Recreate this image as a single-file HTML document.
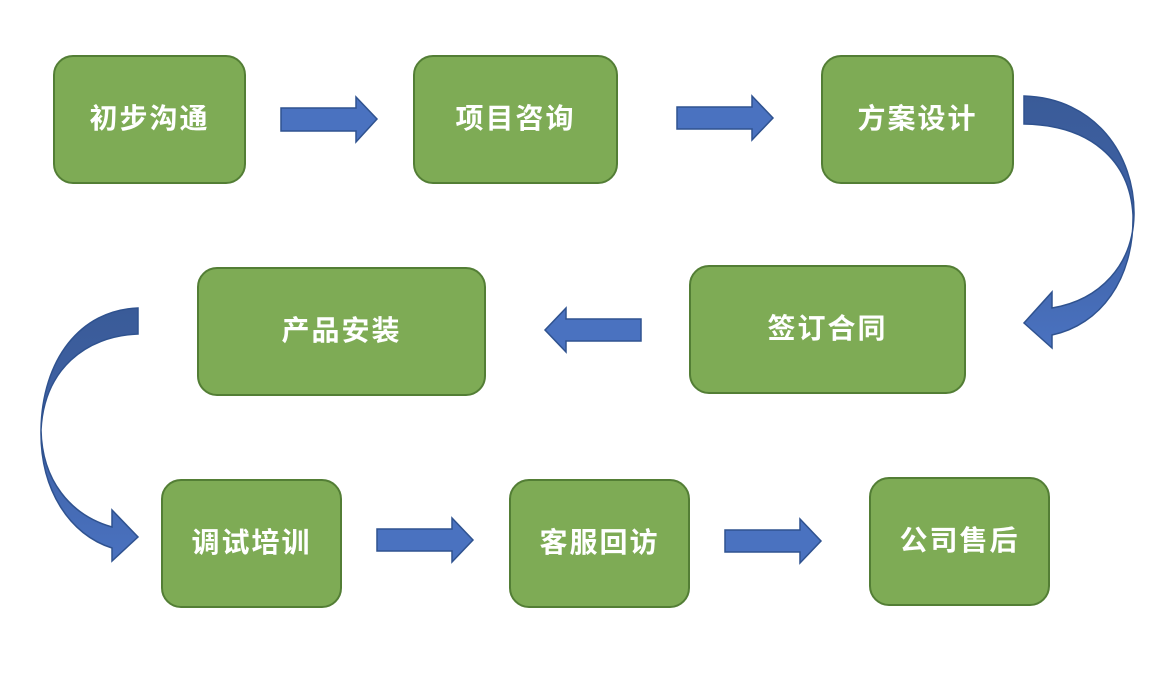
<!DOCTYPE html>
<html><head><meta charset="utf-8"><style>
body{margin:0;width:1160px;height:674px;background:#fff;position:relative;overflow:hidden;font-family:"Liberation Sans","Noto Sans CJK SC",sans-serif}
.b{position:absolute;box-sizing:border-box;background:#7eab55;border:2px solid #537e35;border-radius:20px;color:#fff;font-weight:bold;font-size:28px;display:flex;align-items:center;justify-content:center;letter-spacing:2px;padding-bottom:6px}
svg{position:absolute;left:0;top:0}
</style></head><body>
<div class="b" style="left:53px;top:55px;width:193px;height:129px">初步沟通</div>
<div class="b" style="left:413px;top:55px;width:205px;height:129px">项目咨询</div>
<div class="b" style="left:821px;top:55px;width:193px;height:129px">方案设计</div>
<div class="b" style="left:197px;top:267px;width:289px;height:129px">产品安装</div>
<div class="b" style="left:689px;top:265px;width:277px;height:129px">签订合同</div>
<div class="b" style="left:161px;top:479px;width:181px;height:129px">调试培训</div>
<div class="b" style="left:509px;top:479px;width:181px;height:129px">客服回访</div>
<div class="b" style="left:869px;top:477px;width:181px;height:129px">公司售后</div>
<svg width="1160" height="674">
<defs><linearGradient id="g" x1="0" y1="0" x2="0" y2="1"><stop offset="0" stop-color="#3a5b98"/><stop offset="0.5" stop-color="#3f62a6"/><stop offset="1" stop-color="#4a72c0"/></linearGradient></defs>
<g fill="#4a72c0" stroke="#2f528f" stroke-width="1.5">
<path d="M281,108 H356 V97 L377,119 L356,142 V131 H281 Z"/>
<path d="M677,107 H752 V96 L773,118 L752,140 V129 H677 Z"/>
<path d="M641,319 H566 V308 L545,330 L566,352 V341 H641 Z"/>
<path d="M377,529 H452 V518 L473,540 L452,562 V551 H377 Z"/>
<path d="M725,530 H800 V519 L821,541 L800,563 V552 H725 Z"/>
<path fill="url(#g)" d="M1024,96 C1095,98 1135,155 1134,215 C1133,265 1100,300 1052,308 L1052,292 L1024,323 L1052,348 L1052,335 C1100,325 1134,280 1133,215 C1130,160 1090,125 1024,124 Z"/>
<path fill="url(#g)" d="M138,308 C80,310 42,360 41,430 C42,480 70,515 112,527 L112,510 L138,537 L112,561 L112,548 C70,535 40,490 41,430 C44,370 85,336 138,334 Z"/>
</g></svg>
</body></html>
